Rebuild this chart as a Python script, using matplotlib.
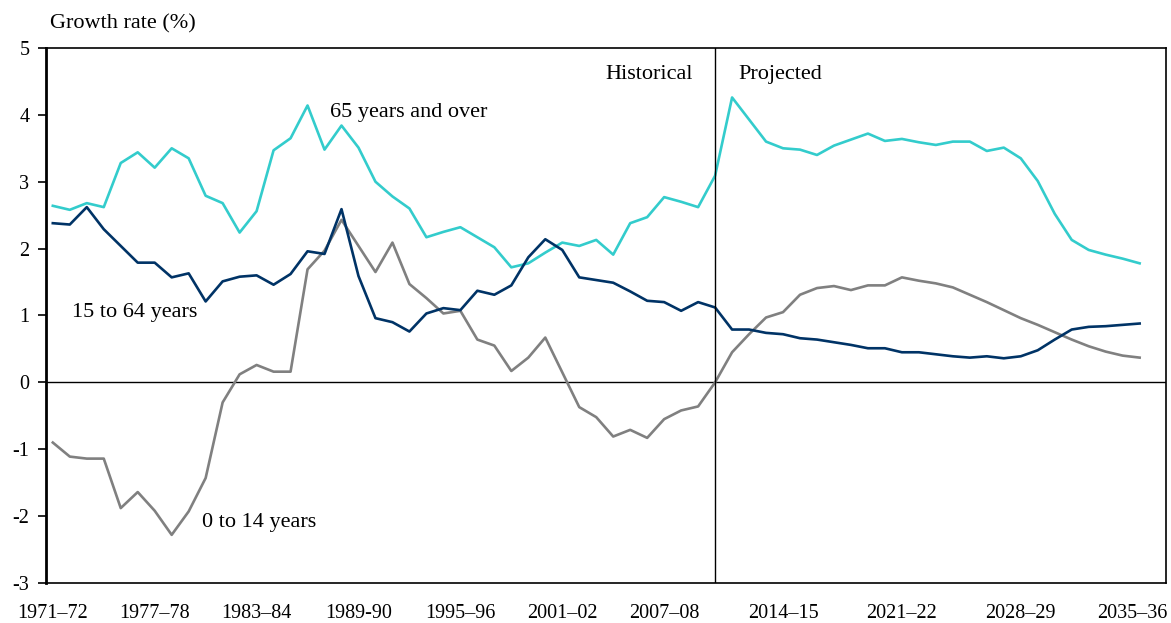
import matplotlib
matplotlib.use("Agg")
import matplotlib.pyplot as plt
import matplotlib.transforms as mtransforms
import numpy as np

# ---- data -------------------------------------------------------------
years = [f"{y}–{str(y + 1)[-2:]}" for y in range(1971, 2036)]  # 1971–72 ... 2035–36

age_65_over = [2.64, 2.58, 2.68, 2.62, 3.28, 3.44, 3.21, 3.50, 3.35, 2.79,
               2.68, 2.24, 2.56, 3.47, 3.65, 4.14, 3.48, 3.84, 3.51, 3.00,
               2.78, 2.60, 2.17, 2.25, 2.32, 2.17, 2.02, 1.72, 1.78, 1.94,
               2.09, 2.04, 2.13, 1.91, 2.38, 2.47, 2.77, 2.70, 2.62, 3.09,
               4.26, 3.93, 3.60, 3.50, 3.48, 3.40, 3.54, 3.63, 3.72, 3.61,
               3.64, 3.59, 3.55, 3.60, 3.60, 3.46, 3.51, 3.35, 3.01, 2.52,
               2.13, 1.98, 1.91, 1.85, 1.78]

age_15_64 = [2.38, 2.36, 2.62, 2.29, 2.04, 1.79, 1.79, 1.57, 1.63, 1.21,
             1.51, 1.58, 1.60, 1.46, 1.62, 1.96, 1.92, 2.59, 1.59, 0.96,
             0.90, 0.76, 1.03, 1.11, 1.08, 1.37, 1.31, 1.45, 1.87, 2.14,
             1.98, 1.57, 1.53, 1.49, 1.36, 1.22, 1.20, 1.07, 1.20, 1.12,
             0.79, 0.79, 0.74, 0.72, 0.66, 0.64, 0.60, 0.56, 0.51, 0.51,
             0.45, 0.45, 0.42, 0.39, 0.37, 0.39, 0.36, 0.39, 0.48, 0.64,
             0.79, 0.83, 0.84, 0.86, 0.88]

age_0_14 = [-0.90, -1.11, -1.14, -1.14, -1.88, -1.64, -1.92, -2.28, -1.93, -1.43,
            -0.30, 0.12, 0.26, 0.16, 0.16, 1.69, 1.97, 2.43, 2.04, 1.65,
            2.09, 1.47, 1.26, 1.03, 1.07, 0.64, 0.55, 0.17, 0.37, 0.67,
            0.15, -0.37, -0.52, -0.81, -0.71, -0.83, -0.55, -0.42, -0.36, 0.00,
            0.45, 0.72, 0.97, 1.05, 1.31, 1.41, 1.44, 1.38, 1.45, 1.45,
            1.57, 1.52, 1.48, 1.42, 1.31, 1.20, 1.08, 0.96, 0.86, 0.75,
            0.64, 0.54, 0.46, 0.40, 0.37]

tick_labels = ["1971–72", "1977–78", "1983–84", "1989-90", "1995–96", "2001–02",
               "2007–08", "2014–15", "2021–22", "2028–29", "2035–36"]
tick_years = ["1971–72", "1977–78", "1983–84", "1989–90", "1995–96", "2001–02",
              "2007–08", "2014–15", "2021–22", "2028–29", "2035–36"]
split_year = "2010–11"

# ---- style ------------------------------------------------------------
plt.rcParams["font.family"] = ["Liberation Serif", "DejaVu Serif"]
FS_TICK = 14.5
FS_TXT = 16
c65 = "#33CCCC"
c1564 = "#003366"
c014 = "#808080"

fig = plt.figure(figsize=(11.71, 6.23), dpi=100)
ax = fig.add_axes([0.0393, 0.0642, 0.9564, 0.8588])

x = np.arange(len(years))
lw = 1.9
ax.plot(x, age_65_over, color=c65, lw=lw, zorder=3)
ax.plot(x, age_15_64, color=c1564, lw=lw, zorder=4)
ax.plot(x, age_0_14, color=c014, lw=lw, zorder=2)

split_idx = years.index(split_year)
ax.axvline(split_idx, color="black", lw=1.0, zorder=5)
ax.axhline(0, color="black", lw=1.0, zorder=1)

ax.set_xlim(-0.4, 65.55)
ax.set_ylim(-3, 5)
ax.set_yticks(range(-3, 6))
ax.set_yticklabels([str(v) for v in range(-3, 6)], fontsize=FS_TICK)
ax.set_xticks([years.index(t) for t in tick_years])
ax.set_xticklabels(tick_labels, fontsize=FS_TICK)
ax.tick_params(axis="x", length=0, pad=15)
ax.tick_params(axis="y", direction="out", length=6, width=1.2, pad=6)

# keep the last label inside the figure
last = ax.get_xticklabels()[-1]
last.set_transform(last.get_transform() +
                   mtransforms.ScaledTranslation(-7 / 100, 0, fig.dpi_scale_trans))

for side in ["top", "bottom", "right"]:
    ax.spines[side].set_linewidth(1.2)
    ax.spines[side].set_color("black")
ax.spines["left"].set_linewidth(2.0)

# labels
ax.text(16.3, 4.04, "65 years and over", fontsize=FS_TXT, va="center", ha="left")
ax.text(1.15, 1.04, "15 to 64 years", fontsize=FS_TXT, va="center", ha="left")
ax.text(8.8, -2.09, "0 to 14 years", fontsize=FS_TXT, va="center", ha="left")
ax.text(split_idx - 1.3, 4.6, "Historical", fontsize=FS_TXT, va="center", ha="right")
ax.text(split_idx + 1.35, 4.6, "Projected", fontsize=FS_TXT, va="center", ha="left")

fig.text(0.0427, 0.962, "Growth rate (%)", fontsize=FS_TXT, va="center", ha="left")

fig.savefig("out.png", dpi=100)
